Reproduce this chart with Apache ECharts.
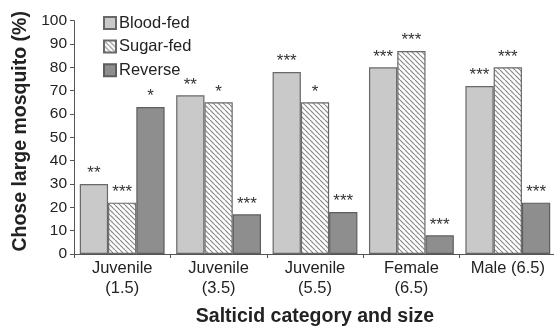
<!DOCTYPE html>
<html>
<head>
<meta charset="utf-8">
<script src="https://cdn.jsdelivr.net/npm/echarts@6/dist/echarts.min.js"></script>
<style>
  html, body { margin: 0; padding: 0; background: #fff; }
  #chart { width: 554px; height: 327px; }
</style>
</head>
<body>
<div id="chart"></div>
<script>
// Choice of the larger mosquito by salticid category and size
const categories = ['Juvenile\n(1.5)', 'Juvenile\n(3.5)', 'Juvenile\n(5.5)', 'Female\n(6.5)', 'Male (6.5)'];
const bloodFed = [30, 68, 78, 80, 72];
const sugarFed = [22, 65, 65, 87, 80];
const reverse = [63, 17, 18, 8, 22];
const bloodStars = ['**', '**', '***', '***', '***'];
const sugarStars = ['***', '*', '*', '***', '***'];
const reverseStars = ['*', '***', '***', '***', '***'];
const yTicks = { min: 0, max: 100, interval: 10 };

// Diagonal hatch fill for the sugar-fed bars
function hatchPattern() {
  const size = 5;
  const c = document.createElement('canvas');
  c.width = size; c.height = size;
  const ctx = c.getContext('2d');
  ctx.fillStyle = '#ffffff';
  ctx.fillRect(0, 0, size, size);
  ctx.strokeStyle = '#8a8a8a';
  ctx.lineWidth = 1.2;
  for (const k of [-size, 0, size]) {
    ctx.beginPath();
    ctx.moveTo(k, 0);
    ctx.lineTo(k + size, size);
    ctx.stroke();
  }
  return { image: c, repeat: 'repeat' };
}

const chart = echarts.init(document.getElementById('chart'), null, { renderer: 'canvas' });

const starLabel = (stars) => ({
  show: true,
  position: 'top',
  distance: 2,
  fontSize: 17,
  color: '#333',
  fontFamily: 'Liberation Sans',
  formatter: (p) => stars[p.dataIndex]
});

chart.setOption({
  animation: false,
  backgroundColor: '#ffffff',
  textStyle: { fontFamily: 'Liberation Sans' },
  grid: { left: 74, right: -2, top: 20.7, bottom: 73, outerBoundsMode: 'none', containLabel: false },
  legend: {
    orient: 'vertical',
    left: 103,
    top: 14.5,
    padding: 0,
    itemWidth: 12,
    itemHeight: 12,
    itemGap: 6.6,
    icon: 'rect',
    textStyle: { fontSize: 16.5, color: '#222', padding: [0, 0, 0, -2] },
    data: ['Blood-fed', 'Sugar-fed', 'Reverse']
  },
  xAxis: {
    type: 'category',
    data: categories,
    name: 'Salticid category and size',
    nameLocation: 'middle',
    nameGap: 53,
    nameTextStyle: { fontSize: 19.5, fontWeight: 'bold', color: '#222', fontFamily: 'Liberation Sans' },
    axisLine: { lineStyle: { color: '#555' } },
    axisTick: { show: true, length: 4, lineStyle: { color: '#555' } },
    axisLabel: { interval: 0, fontSize: 16.5, color: '#222', lineHeight: 20, margin: 4 }
  },
  yAxis: {
    type: 'value',
    min: yTicks.min,
    max: yTicks.max,
    interval: yTicks.interval,
    name: 'Chose large mosquito (%)',
    nameLocation: 'middle',
    nameGap: 42,
    nameTextStyle: { fontSize: 19.5, fontWeight: 'bold', color: '#222', fontFamily: 'Liberation Sans', padding: [0, 0, 0, 12] },
    axisLine: { show: true, lineStyle: { color: '#555' } },
    axisTick: { show: true, length: 4, lineStyle: { color: '#555' } },
    splitLine: { show: false },
    axisLabel: { fontSize: 15.5, color: '#222', margin: 7 }
  },
  series: [
    {
      name: 'Blood-fed',
      type: 'bar',
      data: bloodFed,
      barGap: '0%',
      barCategoryGap: '12%',
      itemStyle: { color: '#c9c9c9', borderColor: '#686868', borderWidth: 1.2 },
      label: starLabel(bloodStars)
    },
    {
      name: 'Sugar-fed',
      type: 'bar',
      data: sugarFed,
      barGap: '0%',
      barCategoryGap: '12%',
      itemStyle: { color: hatchPattern(), borderColor: '#686868', borderWidth: 1.2 },
      label: starLabel(sugarStars)
    },
    {
      name: 'Reverse',
      type: 'bar',
      data: reverse,
      barGap: '0%',
      barCategoryGap: '12%',
      itemStyle: { color: '#8e8e8e', borderColor: '#5e5e5e', borderWidth: 1.2 },
      label: starLabel(reverseStars)
    }
  ]
});
</script>
</body>
</html>
